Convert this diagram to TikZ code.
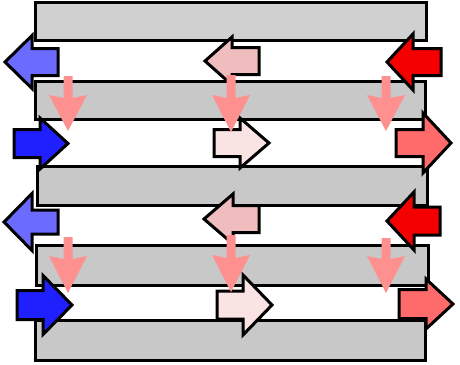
\documentclass[tikz,border=0pt]{standalone}

\definecolor{barlight}{HTML}{D0D0D0}
\definecolor{bargray}{HTML}{C8C8C8}
\definecolor{blueleft}{HTML}{6B6BFF}
\definecolor{blueright}{HTML}{2020FF}
\definecolor{pinkleft}{HTML}{EFBDBD}
\definecolor{pinkright}{HTML}{FAE3E3}
\definecolor{redleft}{HTML}{F40000}
\definecolor{redright}{HTML}{FF6B6B}
\definecolor{flowpink}{HTML}{FF9090}

\begin{document}
\begin{tikzpicture}[x=0.5pt, y=-0.5pt, line width=1.5pt]
    \useasboundingbox (0,0) rectangle (460,364);

    % Gray bars
    \foreach \xa/\ya/\xb/\yb/\col in {35/2/426/40/barlight, 35/81/425/119/bargray,
            37/166/427/205/bargray, 36/245/428/285/bargray, 35/320/425/360/bargray}
        \draw[fill=\col] (\xa,\ya) rectangle (\xb,\yb);

    % Block arrows: tip x / head base x / tail end x / centre y / head half / tail half
    \foreach \t/\b/\e/\c/\h/\s/\col in {
            5/32/58/62/26.5/13.5/blueleft, 205/232/259/61/24/13.5/pinkleft,
            387/413/441/62/28/13.5/redleft,
            68/40/14/143.5/25.5/14/blueright, 269/240/214/143/25/13.5/pinkright,
            451/423/396/143/30/13.5/redright,
            4/32/58/222/28.5/12/blueleft, 204/233/259/219/25/13.5/pinkleft,
            387/414/440/221/29/14/redleft,
            72/43/17/305/29.5/14.5/blueright, 272/243/217/305/30/14/pinkright,
            453/426/399/304/25/14.5/redright}
        \draw[fill=\col] (\t,\c) -- (\b,\c-\h) -- (\b,\c-\s) -- (\e,\c-\s)
            -- (\e,\c+\s) -- (\b,\c+\s) -- (\b,\c+\h) -- cycle;

    % Pink downward arrows
    \foreach \x/\ya/\yb/\tip in {68/76/95/131, 231/75/95/132, 386/76/95/131,
            68/237/256/293, 231/235/255/292, 386/238/256/293}
        \fill[flowpink] (\x-4.5,\ya) -- (\x+4.5,\ya) -- (\x+4.5,\yb+3) -- (\x+19,\yb)
            -- (\x,\tip) -- (\x-19,\yb) -- (\x-4.5,\yb+3) -- cycle;

\end{tikzpicture}
\end{document}
